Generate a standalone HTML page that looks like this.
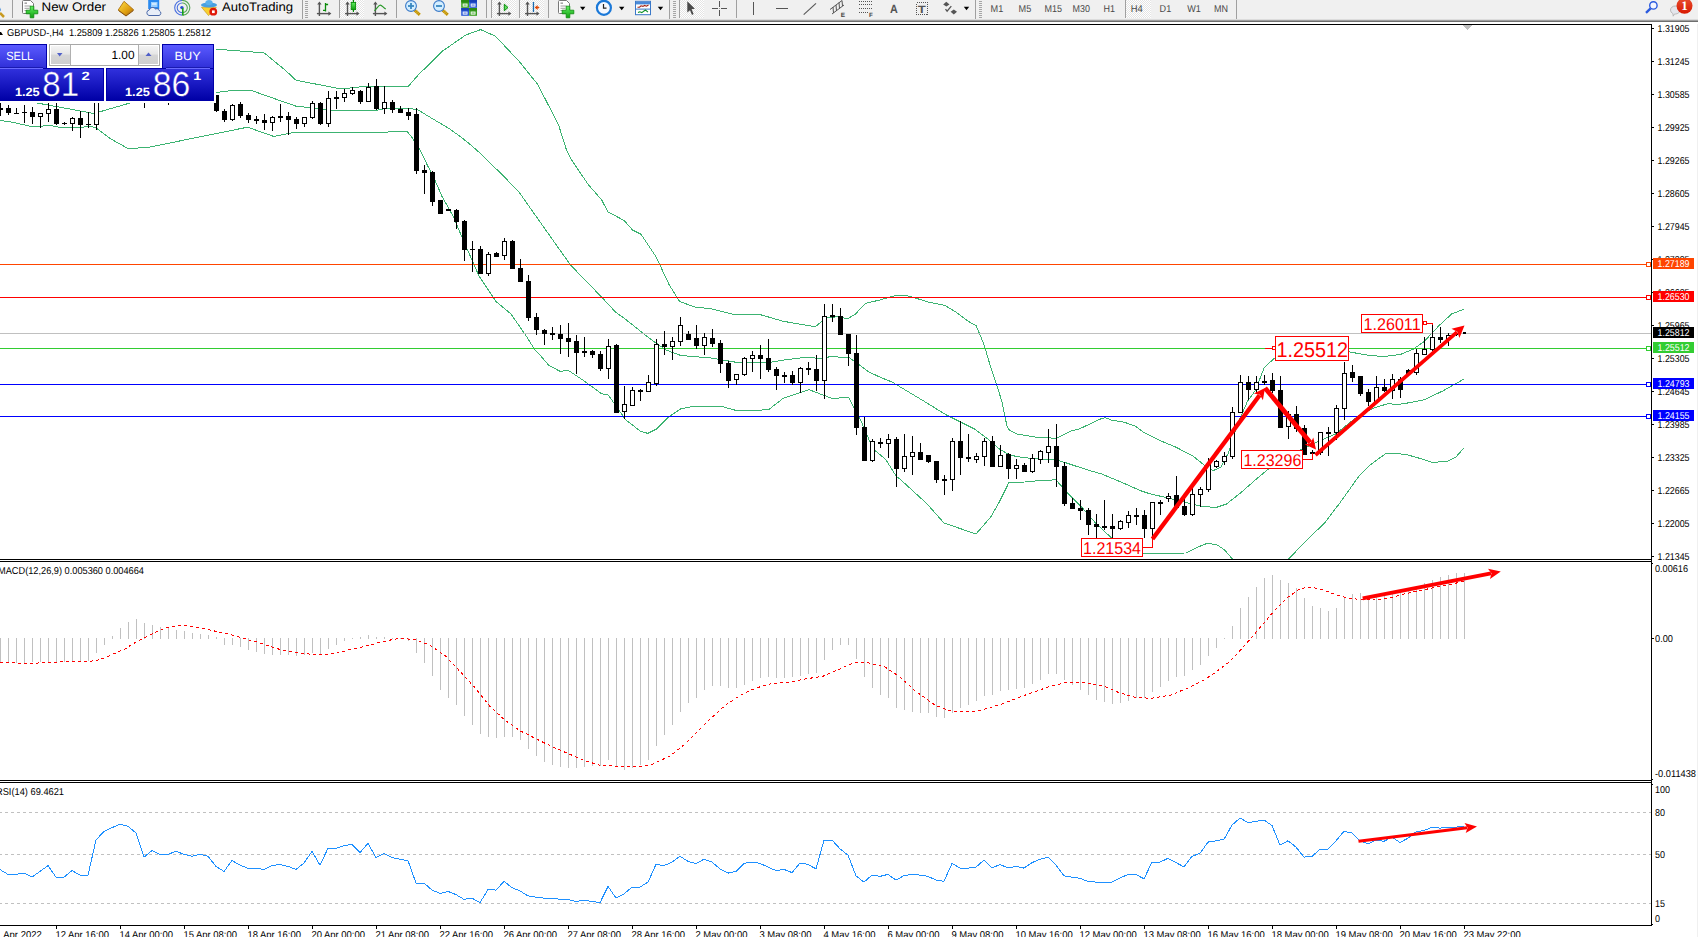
<!DOCTYPE html>
<html><head><meta charset="utf-8"><title>GBPUSD H4</title><style>
html,body{margin:0;padding:0;background:#fff;overflow:hidden}
body{width:1698px;height:937px;position:relative}
svg{position:absolute;left:0;top:0;display:block;font-family:"Liberation Sans",sans-serif;text-rendering:geometricPrecision}
.c{shape-rendering:crispEdges}
</style></head><body>
<svg width="1698" height="937" viewBox="0 0 1698 937">
<defs>
<linearGradient id="gSell" x1="0" y1="0" x2="0" y2="1"><stop offset="0" stop-color="#5a5aff"/><stop offset="1" stop-color="#2f2fd8"/></linearGradient>
<linearGradient id="gPrice" x1="0" y1="0" x2="0" y2="1"><stop offset="0" stop-color="#3030dc"/><stop offset="1" stop-color="#0000a6"/></linearGradient>
<linearGradient id="gPriceU" gradientUnits="userSpaceOnUse" x1="0" y1="69" x2="0" y2="100"><stop offset="0" stop-color="#3030dc"/><stop offset="1" stop-color="#0000a6"/></linearGradient>
<linearGradient id="gBtn" x1="0" y1="0" x2="0" y2="1"><stop offset="0" stop-color="#f4f4f4"/><stop offset="0.45" stop-color="#e6e6e6"/><stop offset="0.5" stop-color="#d6d6d6"/><stop offset="1" stop-color="#cfcfcf"/></linearGradient>
<clipPath id="clipMain"><rect x="0" y="25" width="1651" height="534"/></clipPath>
<clipPath id="clipMacd"><rect x="0" y="562" width="1651" height="217"/></clipPath>
<clipPath id="clipRsi"><rect x="0" y="783" width="1651" height="142"/></clipPath>
</defs>
<rect x="0" y="0" width="1698" height="937" fill="#fff"/>
<g class="c" clip-path="url(#clipMain)">
<polyline points="214.0,49.0 240.0,51.0 264.0,52.8 285.0,70.0 296.0,80.2 336.0,88.0 345.0,88.5 367.0,86.2 408.5,86.2 412.0,82.0 418.0,75.3 442.0,51.4 465.8,35.0 480.7,29.6 495.7,36.4 519.6,61.9 537.6,84.3 558.5,124.7 566.5,150.0 570.7,158.5 587.8,184.0 601.7,200.0 608.0,212.0 624.0,220.4 632.6,230.0 641.0,234.3 656.0,256.7 669.0,284.4 679.6,301.5 694.5,306.9 711.6,309.0 736.3,315.0 759.8,314.5 783.3,321.3 815.3,326.7 826.0,318.0 838.8,316.6 847.3,318.8 855.8,313.9 860.0,308.8 865.3,303.5 881.3,299.6 895.2,295.6 905.9,295.4 915.5,298.1 928.3,302.0 944.3,305.2 956.0,312.0 968.8,321.6 976.3,325.9 983.8,344.0 990.2,365.4 996.6,384.6 1001.9,401.6 1007.2,427.3 1009.4,430.0 1016.9,434.1 1037.1,437.3 1056.3,438.3 1071.3,430.9 1079.8,428.7 1101.1,418.7 1105.4,417.6 1111.8,420.2 1124.6,422.3 1135.3,426.2 1143.8,432.6 1158.8,440.0 1175.8,447.1 1192.9,456.0 1203.6,464.6 1213.0,470.7 1220.7,467.4 1228.4,453.0 1234.2,433.8 1240.0,418.4 1247.6,401.0 1255.3,390.6 1264.0,368.3 1273.6,358.7 1290.0,352.0 1320.0,349.5 1349.4,351.9 1366.5,355.0 1383.5,356.6 1400.6,354.4 1413.4,349.1 1424.0,341.6 1439.0,325.6 1451.8,313.9 1464.0,309.2" fill="none" stroke="#3cb371" stroke-width="1"/>
<polyline points="0.0,96.0 37.0,103.0 94.0,113.5 130.0,103.0 150.0,100.0 180.0,95.0 216.0,92.5 236.0,90.0 250.0,90.0 296.0,106.2 308.6,107.5 332.0,110.2 377.0,110.2 385.0,108.7 400.0,108.8 412.0,108.8 417.4,109.6 428.0,116.0 438.7,122.4 449.4,128.8 460.0,136.3 470.8,144.9 481.5,154.5 496.0,168.8 500.0,172.4 519.5,192.7 545.0,229.0 570.7,265.2 601.7,297.2 615.5,312.0 625.4,319.2 651.0,339.5 666.0,350.0 680.8,355.5 710.7,358.0 736.3,362.3 770.5,362.3 785.4,359.8 806.8,357.2 821.7,358.7 830.2,356.6 849.4,357.6 860.0,365.4 868.5,371.8 881.3,377.7 892.0,382.0 902.7,388.4 924.0,401.2 945.4,414.4 960.3,421.9 975.2,429.4 988.0,439.0 998.7,448.6 1009.4,455.0 1022.2,457.5 1037.1,458.8 1056.3,459.7 1064.9,462.5 1086.2,469.5 1101.1,473.8 1121.0,482.0 1140.0,490.5 1151.5,494.3 1165.0,497.2 1184.2,502.0 1203.4,506.8 1216.9,507.2 1226.5,504.0 1240.0,493.4 1255.3,480.0 1266.8,470.3 1285.0,459.0 1301.4,449.2 1322.5,439.6 1336.0,433.8 1351.4,421.3 1361.6,413.7 1375.0,407.5 1388.3,403.6 1396.8,404.6 1404.3,403.6 1416.0,401.4 1424.0,399.9 1443.3,390.7 1464.0,379.0" fill="none" stroke="#3cb371" stroke-width="1"/>
<polyline points="0.0,120.4 13.0,122.3 21.4,124.3 31.1,126.4 42.1,126.4 45.3,125.4 52.5,125.4 53.8,126.4 60.9,127.5 83.5,127.5 84.8,126.2 90.7,126.2 95.9,127.8 110.0,138.5 128.0,148.5 148.0,147.5 200.0,136.8 247.5,127.2 273.7,136.4 295.0,132.2 331.0,132.2 365.0,133.0 407.0,131.2 412.0,137.4 415.0,142.6 420.0,150.0 428.0,166.5 432.0,173.5 442.0,196.4 453.0,216.0 464.0,241.8 479.0,276.0 496.0,301.5 511.0,314.0 526.0,335.7 535.0,350.0 540.0,355.0 548.5,365.0 560.3,371.5 567.7,370.0 582.7,380.0 601.9,393.9 608.3,395.0 625.4,419.5 640.3,431.2 647.8,433.4 656.3,429.1 668.0,417.4 680.8,408.8 693.7,406.3 721.4,406.3 736.3,410.5 768.3,409.9 783.3,398.2 808.9,389.6 832.4,398.6 848.4,397.1 855.8,411.0 860.0,418.7 866.4,433.6 872.8,448.6 885.6,459.3 896.3,476.3 901.3,480.3 927.0,503.8 944.0,523.0 976.0,534.0 991.0,516.6 999.5,501.6 1009.0,482.4 1025.0,482.0 1042.0,480.3 1056.0,479.9 1065.7,491.0 1080.6,505.9 1095.5,523.0 1111.5,537.9 1125.0,548.0 1143.5,553.3 1186.0,553.0 1197.6,547.2 1207.3,543.3 1216.9,544.7 1224.6,550.0 1232.2,558.7 1240.0,570.0 1280.0,570.0 1289.0,558.7 1305.3,541.4 1324.5,523.2 1339.8,503.0 1349.5,489.5 1359.0,476.0 1370.6,464.6 1385.7,453.6 1404.9,454.1 1422.0,459.0 1432.6,462.6 1447.5,461.1 1456.0,456.9 1464.0,447.9" fill="none" stroke="#3cb371" stroke-width="1"/>
<rect x="0" y="333" width="1651" height="1" fill="#c0c0c0"/>
<rect x="0" y="264" width="1646" height="1" fill="#ff4500"/>
<rect x="0" y="297" width="1646" height="1" fill="#ff0000"/>
<rect x="0" y="348" width="1646" height="1" fill="#32cd32"/>
<rect x="0" y="384" width="1646" height="1" fill="#0000ff"/>
<rect x="0" y="416" width="1646" height="1" fill="#0000ff"/>
<rect x="0" y="103" width="1" height="13" fill="#000"/>
<rect x="-2" y="108" width="5" height="2" fill="#000"/>
<rect x="8" y="105" width="1" height="10" fill="#000"/>
<rect x="6" y="108" width="5" height="5" fill="#000"/>
<rect x="16" y="108" width="1" height="6" fill="#000"/>
<rect x="14" y="113" width="5" height="1" fill="#000"/>
<rect x="24" y="105" width="1" height="18" fill="#000"/>
<rect x="22" y="112" width="5" height="1" fill="#000"/>
<rect x="32" y="107" width="1" height="17" fill="#000"/>
<rect x="30" y="112" width="5" height="5" fill="#000"/>
<rect x="40" y="113" width="1" height="15" fill="#000"/>
<rect x="38" y="113" width="5" height="4" fill="#000"/>
<rect x="39" y="114" width="3" height="2" fill="#fff"/>
<rect x="48" y="103" width="1" height="19" fill="#000"/>
<rect x="46" y="109" width="5" height="5" fill="#000"/>
<rect x="47" y="110" width="3" height="3" fill="#fff"/>
<rect x="56" y="103" width="1" height="22" fill="#000"/>
<rect x="54" y="109" width="5" height="15" fill="#000"/>
<rect x="64" y="122" width="1" height="3" fill="#000"/>
<rect x="62" y="123" width="5" height="1" fill="#000"/>
<rect x="72" y="117" width="1" height="14" fill="#000"/>
<rect x="70" y="118" width="5" height="6" fill="#000"/>
<rect x="71" y="119" width="3" height="4" fill="#fff"/>
<rect x="80" y="111" width="1" height="27" fill="#000"/>
<rect x="78" y="118" width="5" height="7" fill="#000"/>
<rect x="88" y="112" width="1" height="16" fill="#000"/>
<rect x="86" y="124" width="5" height="1" fill="#000"/>
<rect x="96" y="90" width="1" height="40" fill="#000"/>
<rect x="94" y="92" width="5" height="33" fill="#000"/>
<rect x="95" y="93" width="3" height="31" fill="#fff"/>
<rect x="144" y="98" width="1" height="10" fill="#000"/>
<rect x="142" y="100" width="5" height="3" fill="#000"/>
<rect x="168" y="98" width="1" height="7" fill="#000"/>
<rect x="166" y="100" width="5" height="3" fill="#000"/>
<rect x="216" y="95" width="1" height="17" fill="#000"/>
<rect x="214" y="95" width="5" height="16" fill="#000"/>
<rect x="224" y="109" width="1" height="13" fill="#000"/>
<rect x="222" y="111" width="5" height="9" fill="#000"/>
<rect x="232" y="104" width="1" height="17" fill="#000"/>
<rect x="230" y="105" width="5" height="15" fill="#000"/>
<rect x="231" y="106" width="3" height="13" fill="#fff"/>
<rect x="240" y="102" width="1" height="16" fill="#000"/>
<rect x="238" y="104" width="5" height="12" fill="#000"/>
<rect x="248" y="113" width="1" height="10" fill="#000"/>
<rect x="246" y="115" width="5" height="5" fill="#000"/>
<rect x="256" y="116" width="1" height="8" fill="#000"/>
<rect x="254" y="119" width="5" height="2" fill="#000"/>
<rect x="264" y="114" width="1" height="16" fill="#000"/>
<rect x="262" y="120" width="5" height="3" fill="#000"/>
<rect x="272" y="116" width="1" height="15" fill="#000"/>
<rect x="270" y="117" width="5" height="6" fill="#000"/>
<rect x="271" y="118" width="3" height="4" fill="#fff"/>
<rect x="280" y="104" width="1" height="18" fill="#000"/>
<rect x="278" y="116" width="5" height="2" fill="#000"/>
<rect x="288" y="112" width="1" height="23" fill="#000"/>
<rect x="286" y="116" width="5" height="4" fill="#000"/>
<rect x="296" y="117" width="1" height="12" fill="#000"/>
<rect x="294" y="119" width="5" height="5" fill="#000"/>
<rect x="304" y="117" width="1" height="10" fill="#000"/>
<rect x="302" y="117" width="5" height="7" fill="#000"/>
<rect x="303" y="118" width="3" height="5" fill="#fff"/>
<rect x="312" y="101" width="1" height="18" fill="#000"/>
<rect x="310" y="103" width="5" height="15" fill="#000"/>
<rect x="311" y="104" width="3" height="13" fill="#fff"/>
<rect x="320" y="102" width="1" height="23" fill="#000"/>
<rect x="318" y="103" width="5" height="21" fill="#000"/>
<rect x="328" y="91" width="1" height="36" fill="#000"/>
<rect x="326" y="98" width="5" height="26" fill="#000"/>
<rect x="327" y="99" width="3" height="24" fill="#fff"/>
<rect x="336" y="91" width="1" height="18" fill="#000"/>
<rect x="334" y="97" width="5" height="2" fill="#000"/>
<rect x="344" y="89" width="1" height="13" fill="#000"/>
<rect x="342" y="93" width="5" height="5" fill="#000"/>
<rect x="343" y="94" width="3" height="3" fill="#fff"/>
<rect x="352" y="87" width="1" height="8" fill="#000"/>
<rect x="350" y="90" width="5" height="4" fill="#000"/>
<rect x="351" y="91" width="3" height="2" fill="#fff"/>
<rect x="360" y="90" width="1" height="14" fill="#000"/>
<rect x="358" y="91" width="5" height="11" fill="#000"/>
<rect x="368" y="83" width="1" height="19" fill="#000"/>
<rect x="366" y="87" width="5" height="15" fill="#000"/>
<rect x="367" y="88" width="3" height="13" fill="#fff"/>
<rect x="376" y="79" width="1" height="31" fill="#000"/>
<rect x="374" y="86" width="5" height="23" fill="#000"/>
<rect x="384" y="86" width="1" height="28" fill="#000"/>
<rect x="382" y="102" width="5" height="7" fill="#000"/>
<rect x="383" y="103" width="3" height="5" fill="#fff"/>
<rect x="392" y="100" width="1" height="13" fill="#000"/>
<rect x="390" y="102" width="5" height="8" fill="#000"/>
<rect x="400" y="106" width="1" height="7" fill="#000"/>
<rect x="398" y="109" width="5" height="4" fill="#000"/>
<rect x="408" y="108" width="1" height="12" fill="#000"/>
<rect x="406" y="112" width="5" height="4" fill="#000"/>
<rect x="416" y="108" width="1" height="66" fill="#000"/>
<rect x="414" y="114" width="5" height="57" fill="#000"/>
<rect x="424" y="165" width="1" height="29" fill="#000"/>
<rect x="422" y="170" width="5" height="3" fill="#000"/>
<rect x="432" y="171" width="1" height="35" fill="#000"/>
<rect x="430" y="172" width="5" height="30" fill="#000"/>
<rect x="440" y="200" width="1" height="14" fill="#000"/>
<rect x="438" y="200" width="5" height="14" fill="#000"/>
<rect x="448" y="209" width="1" height="2" fill="#000"/>
<rect x="446" y="209" width="5" height="2" fill="#000"/>
<rect x="456" y="209" width="1" height="20" fill="#000"/>
<rect x="454" y="210" width="5" height="12" fill="#000"/>
<rect x="464" y="220" width="1" height="41" fill="#000"/>
<rect x="462" y="221" width="5" height="29" fill="#000"/>
<rect x="472" y="241" width="1" height="31" fill="#000"/>
<rect x="470" y="249" width="5" height="1" fill="#000"/>
<rect x="480" y="246" width="1" height="28" fill="#000"/>
<rect x="478" y="249" width="5" height="25" fill="#000"/>
<rect x="488" y="252" width="1" height="24" fill="#000"/>
<rect x="486" y="254" width="5" height="20" fill="#000"/>
<rect x="487" y="255" width="3" height="18" fill="#fff"/>
<rect x="496" y="252" width="1" height="5" fill="#000"/>
<rect x="494" y="253" width="5" height="4" fill="#000"/>
<rect x="504" y="238" width="1" height="22" fill="#000"/>
<rect x="502" y="241" width="5" height="15" fill="#000"/>
<rect x="503" y="242" width="3" height="13" fill="#fff"/>
<rect x="512" y="240" width="1" height="29" fill="#000"/>
<rect x="510" y="241" width="5" height="28" fill="#000"/>
<rect x="520" y="259" width="1" height="23" fill="#000"/>
<rect x="518" y="268" width="5" height="14" fill="#000"/>
<rect x="528" y="275" width="1" height="46" fill="#000"/>
<rect x="526" y="281" width="5" height="37" fill="#000"/>
<rect x="536" y="313" width="1" height="22" fill="#000"/>
<rect x="534" y="317" width="5" height="13" fill="#000"/>
<rect x="544" y="329" width="1" height="16" fill="#000"/>
<rect x="542" y="330" width="5" height="4" fill="#000"/>
<rect x="552" y="327" width="1" height="13" fill="#000"/>
<rect x="550" y="333" width="5" height="2" fill="#000"/>
<rect x="560" y="325" width="1" height="29" fill="#000"/>
<rect x="558" y="334" width="5" height="5" fill="#000"/>
<rect x="568" y="323" width="1" height="34" fill="#000"/>
<rect x="566" y="338" width="5" height="4" fill="#000"/>
<rect x="576" y="335" width="1" height="39" fill="#000"/>
<rect x="574" y="341" width="5" height="12" fill="#000"/>
<rect x="584" y="337" width="1" height="20" fill="#000"/>
<rect x="582" y="351" width="5" height="2" fill="#000"/>
<rect x="592" y="350" width="1" height="8" fill="#000"/>
<rect x="590" y="351" width="5" height="4" fill="#000"/>
<rect x="600" y="351" width="1" height="20" fill="#000"/>
<rect x="598" y="354" width="5" height="15" fill="#000"/>
<rect x="608" y="339" width="1" height="40" fill="#000"/>
<rect x="606" y="346" width="5" height="23" fill="#000"/>
<rect x="607" y="347" width="3" height="21" fill="#fff"/>
<rect x="616" y="344" width="1" height="68" fill="#000"/>
<rect x="614" y="345" width="5" height="68" fill="#000"/>
<rect x="624" y="386" width="1" height="33" fill="#000"/>
<rect x="622" y="404" width="5" height="8" fill="#000"/>
<rect x="623" y="405" width="3" height="6" fill="#fff"/>
<rect x="632" y="387" width="1" height="19" fill="#000"/>
<rect x="630" y="390" width="5" height="16" fill="#000"/>
<rect x="631" y="391" width="3" height="14" fill="#fff"/>
<rect x="640" y="389" width="1" height="12" fill="#000"/>
<rect x="638" y="390" width="5" height="2" fill="#000"/>
<rect x="648" y="375" width="1" height="17" fill="#000"/>
<rect x="646" y="382" width="5" height="10" fill="#000"/>
<rect x="647" y="383" width="3" height="8" fill="#fff"/>
<rect x="656" y="339" width="1" height="47" fill="#000"/>
<rect x="654" y="344" width="5" height="40" fill="#000"/>
<rect x="655" y="345" width="3" height="38" fill="#fff"/>
<rect x="664" y="331" width="1" height="24" fill="#000"/>
<rect x="662" y="344" width="5" height="3" fill="#000"/>
<rect x="672" y="337" width="1" height="23" fill="#000"/>
<rect x="670" y="341" width="5" height="6" fill="#000"/>
<rect x="671" y="342" width="3" height="4" fill="#fff"/>
<rect x="680" y="317" width="1" height="29" fill="#000"/>
<rect x="678" y="325" width="5" height="17" fill="#000"/>
<rect x="679" y="326" width="3" height="15" fill="#fff"/>
<rect x="688" y="331" width="1" height="9" fill="#000"/>
<rect x="686" y="334" width="5" height="6" fill="#000"/>
<rect x="696" y="325" width="1" height="24" fill="#000"/>
<rect x="694" y="338" width="5" height="8" fill="#000"/>
<rect x="704" y="333" width="1" height="22" fill="#000"/>
<rect x="702" y="337" width="5" height="9" fill="#000"/>
<rect x="703" y="338" width="3" height="7" fill="#fff"/>
<rect x="712" y="329" width="1" height="18" fill="#000"/>
<rect x="710" y="338" width="5" height="6" fill="#000"/>
<rect x="720" y="340" width="1" height="33" fill="#000"/>
<rect x="718" y="343" width="5" height="21" fill="#000"/>
<rect x="728" y="361" width="1" height="27" fill="#000"/>
<rect x="726" y="363" width="5" height="18" fill="#000"/>
<rect x="736" y="374" width="1" height="11" fill="#000"/>
<rect x="734" y="374" width="5" height="6" fill="#000"/>
<rect x="735" y="375" width="3" height="4" fill="#fff"/>
<rect x="744" y="357" width="1" height="19" fill="#000"/>
<rect x="742" y="358" width="5" height="17" fill="#000"/>
<rect x="743" y="359" width="3" height="15" fill="#fff"/>
<rect x="752" y="351" width="1" height="21" fill="#000"/>
<rect x="750" y="355" width="5" height="4" fill="#000"/>
<rect x="751" y="356" width="3" height="2" fill="#fff"/>
<rect x="760" y="345" width="1" height="34" fill="#000"/>
<rect x="758" y="355" width="5" height="4" fill="#000"/>
<rect x="768" y="339" width="1" height="33" fill="#000"/>
<rect x="766" y="358" width="5" height="12" fill="#000"/>
<rect x="776" y="367" width="1" height="23" fill="#000"/>
<rect x="774" y="369" width="5" height="7" fill="#000"/>
<rect x="784" y="372" width="1" height="11" fill="#000"/>
<rect x="782" y="375" width="5" height="2" fill="#000"/>
<rect x="792" y="371" width="1" height="14" fill="#000"/>
<rect x="790" y="375" width="5" height="8" fill="#000"/>
<rect x="800" y="367" width="1" height="26" fill="#000"/>
<rect x="798" y="368" width="5" height="15" fill="#000"/>
<rect x="799" y="369" width="3" height="13" fill="#fff"/>
<rect x="808" y="362" width="1" height="13" fill="#000"/>
<rect x="806" y="368" width="5" height="2" fill="#000"/>
<rect x="816" y="355" width="1" height="36" fill="#000"/>
<rect x="814" y="369" width="5" height="12" fill="#000"/>
<rect x="824" y="304" width="1" height="95" fill="#000"/>
<rect x="822" y="316" width="5" height="65" fill="#000"/>
<rect x="823" y="317" width="3" height="63" fill="#fff"/>
<rect x="832" y="304" width="1" height="18" fill="#000"/>
<rect x="830" y="315" width="5" height="2" fill="#000"/>
<rect x="840" y="308" width="1" height="27" fill="#000"/>
<rect x="838" y="316" width="5" height="19" fill="#000"/>
<rect x="848" y="334" width="1" height="32" fill="#000"/>
<rect x="846" y="334" width="5" height="20" fill="#000"/>
<rect x="856" y="335" width="1" height="100" fill="#000"/>
<rect x="854" y="353" width="5" height="75" fill="#000"/>
<rect x="864" y="417" width="1" height="44" fill="#000"/>
<rect x="862" y="427" width="5" height="34" fill="#000"/>
<rect x="872" y="439" width="1" height="23" fill="#000"/>
<rect x="870" y="441" width="5" height="20" fill="#000"/>
<rect x="871" y="442" width="3" height="18" fill="#fff"/>
<rect x="880" y="438" width="1" height="10" fill="#000"/>
<rect x="878" y="442" width="5" height="2" fill="#000"/>
<rect x="888" y="434" width="1" height="24" fill="#000"/>
<rect x="886" y="439" width="5" height="5" fill="#000"/>
<rect x="887" y="440" width="3" height="3" fill="#fff"/>
<rect x="896" y="437" width="1" height="50" fill="#000"/>
<rect x="894" y="439" width="5" height="30" fill="#000"/>
<rect x="904" y="434" width="1" height="38" fill="#000"/>
<rect x="902" y="456" width="5" height="13" fill="#000"/>
<rect x="903" y="457" width="3" height="11" fill="#fff"/>
<rect x="912" y="436" width="1" height="39" fill="#000"/>
<rect x="910" y="452" width="5" height="5" fill="#000"/>
<rect x="911" y="453" width="3" height="3" fill="#fff"/>
<rect x="920" y="443" width="1" height="17" fill="#000"/>
<rect x="918" y="452" width="5" height="8" fill="#000"/>
<rect x="928" y="455" width="1" height="8" fill="#000"/>
<rect x="926" y="455" width="5" height="7" fill="#000"/>
<rect x="936" y="461" width="1" height="22" fill="#000"/>
<rect x="934" y="461" width="5" height="19" fill="#000"/>
<rect x="944" y="475" width="1" height="20" fill="#000"/>
<rect x="942" y="479" width="5" height="2" fill="#000"/>
<rect x="952" y="438" width="1" height="53" fill="#000"/>
<rect x="950" y="441" width="5" height="39" fill="#000"/>
<rect x="951" y="442" width="3" height="37" fill="#fff"/>
<rect x="960" y="421" width="1" height="54" fill="#000"/>
<rect x="958" y="441" width="5" height="17" fill="#000"/>
<rect x="968" y="434" width="1" height="28" fill="#000"/>
<rect x="966" y="457" width="5" height="2" fill="#000"/>
<rect x="976" y="453" width="1" height="10" fill="#000"/>
<rect x="974" y="456" width="5" height="4" fill="#000"/>
<rect x="975" y="457" width="3" height="2" fill="#fff"/>
<rect x="984" y="438" width="1" height="28" fill="#000"/>
<rect x="982" y="441" width="5" height="16" fill="#000"/>
<rect x="983" y="442" width="3" height="14" fill="#fff"/>
<rect x="992" y="436" width="1" height="31" fill="#000"/>
<rect x="990" y="441" width="5" height="26" fill="#000"/>
<rect x="1000" y="445" width="1" height="22" fill="#000"/>
<rect x="998" y="455" width="5" height="12" fill="#000"/>
<rect x="999" y="456" width="3" height="10" fill="#fff"/>
<rect x="1008" y="453" width="1" height="26" fill="#000"/>
<rect x="1006" y="454" width="5" height="15" fill="#000"/>
<rect x="1016" y="459" width="1" height="20" fill="#000"/>
<rect x="1014" y="465" width="5" height="4" fill="#000"/>
<rect x="1015" y="466" width="3" height="2" fill="#fff"/>
<rect x="1024" y="463" width="1" height="9" fill="#000"/>
<rect x="1022" y="465" width="5" height="7" fill="#000"/>
<rect x="1032" y="454" width="1" height="19" fill="#000"/>
<rect x="1030" y="458" width="5" height="14" fill="#000"/>
<rect x="1031" y="459" width="3" height="12" fill="#fff"/>
<rect x="1040" y="450" width="1" height="14" fill="#000"/>
<rect x="1038" y="451" width="5" height="9" fill="#000"/>
<rect x="1039" y="452" width="3" height="7" fill="#fff"/>
<rect x="1048" y="429" width="1" height="34" fill="#000"/>
<rect x="1046" y="446" width="5" height="7" fill="#000"/>
<rect x="1047" y="447" width="3" height="5" fill="#fff"/>
<rect x="1056" y="424" width="1" height="63" fill="#000"/>
<rect x="1054" y="446" width="5" height="21" fill="#000"/>
<rect x="1064" y="462" width="1" height="44" fill="#000"/>
<rect x="1062" y="466" width="5" height="38" fill="#000"/>
<rect x="1072" y="498" width="1" height="11" fill="#000"/>
<rect x="1070" y="503" width="5" height="6" fill="#000"/>
<rect x="1080" y="500" width="1" height="20" fill="#000"/>
<rect x="1078" y="508" width="5" height="3" fill="#000"/>
<rect x="1088" y="508" width="1" height="27" fill="#000"/>
<rect x="1086" y="510" width="5" height="15" fill="#000"/>
<rect x="1096" y="514" width="1" height="28" fill="#000"/>
<rect x="1094" y="524" width="5" height="3" fill="#000"/>
<rect x="1104" y="500" width="1" height="30" fill="#000"/>
<rect x="1102" y="526" width="5" height="2" fill="#000"/>
<rect x="1112" y="514" width="1" height="24" fill="#000"/>
<rect x="1110" y="526" width="5" height="3" fill="#000"/>
<rect x="1120" y="520" width="1" height="10" fill="#000"/>
<rect x="1118" y="521" width="5" height="8" fill="#000"/>
<rect x="1119" y="522" width="3" height="6" fill="#fff"/>
<rect x="1128" y="511" width="1" height="17" fill="#000"/>
<rect x="1126" y="515" width="5" height="8" fill="#000"/>
<rect x="1127" y="516" width="3" height="6" fill="#fff"/>
<rect x="1136" y="508" width="1" height="17" fill="#000"/>
<rect x="1134" y="515" width="5" height="2" fill="#000"/>
<rect x="1144" y="510" width="1" height="28" fill="#000"/>
<rect x="1142" y="515" width="5" height="14" fill="#000"/>
<rect x="1152" y="502" width="1" height="37" fill="#000"/>
<rect x="1150" y="502" width="5" height="27" fill="#000"/>
<rect x="1151" y="503" width="3" height="25" fill="#fff"/>
<rect x="1160" y="500" width="1" height="15" fill="#000"/>
<rect x="1158" y="502" width="5" height="2" fill="#000"/>
<rect x="1168" y="493" width="1" height="9" fill="#000"/>
<rect x="1166" y="496" width="5" height="3" fill="#000"/>
<rect x="1167" y="497" width="3" height="1" fill="#fff"/>
<rect x="1176" y="476" width="1" height="31" fill="#000"/>
<rect x="1174" y="495" width="5" height="13" fill="#000"/>
<rect x="1184" y="499" width="1" height="17" fill="#000"/>
<rect x="1182" y="506" width="5" height="9" fill="#000"/>
<rect x="1192" y="487" width="1" height="29" fill="#000"/>
<rect x="1190" y="494" width="5" height="21" fill="#000"/>
<rect x="1191" y="495" width="3" height="19" fill="#fff"/>
<rect x="1200" y="487" width="1" height="20" fill="#000"/>
<rect x="1198" y="489" width="5" height="6" fill="#000"/>
<rect x="1199" y="490" width="3" height="4" fill="#fff"/>
<rect x="1208" y="458" width="1" height="34" fill="#000"/>
<rect x="1206" y="464" width="5" height="26" fill="#000"/>
<rect x="1207" y="465" width="3" height="24" fill="#fff"/>
<rect x="1216" y="460" width="1" height="8" fill="#000"/>
<rect x="1214" y="461" width="5" height="6" fill="#000"/>
<rect x="1215" y="462" width="3" height="4" fill="#fff"/>
<rect x="1224" y="452" width="1" height="13" fill="#000"/>
<rect x="1222" y="456" width="5" height="6" fill="#000"/>
<rect x="1223" y="457" width="3" height="4" fill="#fff"/>
<rect x="1232" y="407" width="1" height="52" fill="#000"/>
<rect x="1230" y="412" width="5" height="45" fill="#000"/>
<rect x="1231" y="413" width="3" height="43" fill="#fff"/>
<rect x="1240" y="375" width="1" height="38" fill="#000"/>
<rect x="1238" y="382" width="5" height="31" fill="#000"/>
<rect x="1239" y="383" width="3" height="29" fill="#fff"/>
<rect x="1248" y="376" width="1" height="24" fill="#000"/>
<rect x="1246" y="382" width="5" height="8" fill="#000"/>
<rect x="1256" y="376" width="1" height="18" fill="#000"/>
<rect x="1254" y="382" width="5" height="8" fill="#000"/>
<rect x="1255" y="383" width="3" height="6" fill="#fff"/>
<rect x="1264" y="375" width="1" height="10" fill="#000"/>
<rect x="1262" y="381" width="5" height="2" fill="#000"/>
<rect x="1272" y="373" width="1" height="20" fill="#000"/>
<rect x="1270" y="380" width="5" height="11" fill="#000"/>
<rect x="1280" y="376" width="1" height="52" fill="#000"/>
<rect x="1278" y="390" width="5" height="38" fill="#000"/>
<rect x="1288" y="411" width="1" height="28" fill="#000"/>
<rect x="1286" y="414" width="5" height="13" fill="#000"/>
<rect x="1287" y="415" width="3" height="11" fill="#fff"/>
<rect x="1296" y="406" width="1" height="26" fill="#000"/>
<rect x="1294" y="414" width="5" height="15" fill="#000"/>
<rect x="1304" y="425" width="1" height="30" fill="#000"/>
<rect x="1302" y="428" width="5" height="27" fill="#000"/>
<rect x="1312" y="450" width="1" height="10" fill="#000"/>
<rect x="1310" y="452" width="5" height="2" fill="#000"/>
<rect x="1320" y="432" width="1" height="23" fill="#000"/>
<rect x="1318" y="432" width="5" height="21" fill="#000"/>
<rect x="1319" y="433" width="3" height="19" fill="#fff"/>
<rect x="1328" y="427" width="1" height="29" fill="#000"/>
<rect x="1326" y="432" width="5" height="2" fill="#000"/>
<rect x="1336" y="405" width="1" height="35" fill="#000"/>
<rect x="1334" y="408" width="5" height="25" fill="#000"/>
<rect x="1335" y="409" width="3" height="23" fill="#fff"/>
<rect x="1344" y="362" width="1" height="58" fill="#000"/>
<rect x="1342" y="373" width="5" height="36" fill="#000"/>
<rect x="1343" y="374" width="3" height="34" fill="#fff"/>
<rect x="1352" y="365" width="1" height="17" fill="#000"/>
<rect x="1350" y="372" width="5" height="6" fill="#000"/>
<rect x="1360" y="376" width="1" height="20" fill="#000"/>
<rect x="1358" y="376" width="5" height="18" fill="#000"/>
<rect x="1368" y="389" width="1" height="17" fill="#000"/>
<rect x="1366" y="392" width="5" height="10" fill="#000"/>
<rect x="1376" y="376" width="1" height="26" fill="#000"/>
<rect x="1374" y="387" width="5" height="15" fill="#000"/>
<rect x="1375" y="388" width="3" height="13" fill="#fff"/>
<rect x="1384" y="379" width="1" height="13" fill="#000"/>
<rect x="1382" y="387" width="5" height="4" fill="#000"/>
<rect x="1392" y="374" width="1" height="25" fill="#000"/>
<rect x="1390" y="379" width="5" height="12" fill="#000"/>
<rect x="1391" y="380" width="3" height="10" fill="#fff"/>
<rect x="1400" y="377" width="1" height="21" fill="#000"/>
<rect x="1398" y="379" width="5" height="11" fill="#000"/>
<rect x="1408" y="369" width="1" height="6" fill="#000"/>
<rect x="1406" y="370" width="5" height="4" fill="#000"/>
<rect x="1416" y="349" width="1" height="26" fill="#000"/>
<rect x="1414" y="353" width="5" height="20" fill="#000"/>
<rect x="1415" y="354" width="3" height="18" fill="#fff"/>
<rect x="1424" y="337" width="1" height="18" fill="#000"/>
<rect x="1422" y="349" width="5" height="6" fill="#000"/>
<rect x="1423" y="350" width="3" height="4" fill="#fff"/>
<rect x="1432" y="323" width="1" height="28" fill="#000"/>
<rect x="1430" y="337" width="5" height="13" fill="#000"/>
<rect x="1431" y="338" width="3" height="11" fill="#fff"/>
<rect x="1440" y="327" width="1" height="16" fill="#000"/>
<rect x="1438" y="337" width="5" height="3" fill="#000"/>
<rect x="1448" y="333" width="1" height="13" fill="#000"/>
<rect x="1446" y="335" width="5" height="5" fill="#000"/>
<rect x="1447" y="336" width="3" height="3" fill="#fff"/>
<rect x="1456" y="333" width="1" height="3" fill="#000"/>
<rect x="1455" y="333" width="3" height="2" fill="#000"/>
<rect x="1464" y="332" width="1" height="1" fill="#000"/>
<rect x="1463" y="332" width="3" height="2" fill="#000"/>
</g>
<g>
<line x1="1152.5" y1="539.0" x2="1259.6" y2="395.2" stroke="#ff0000" stroke-width="4.4"/><polygon points="1265.0,388.0 1262.9,400.2 1259.9,394.8 1253.9,393.5" fill="#ff0000"/>
<line x1="1265.0" y1="388.0" x2="1310.3" y2="442.6" stroke="#ff0000" stroke-width="4.7"/><polygon points="1316.0,449.5 1304.7,444.6 1310.6,443.0 1313.3,437.5" fill="#ff0000"/>
<line x1="1315.5" y1="455.0" x2="1457.0" y2="332.1" stroke="#ff0000" stroke-width="3.7"/><polygon points="1464.5,325.5 1459.4,337.9 1457.3,331.7 1451.5,328.8" fill="#ff0000"/>
</g>
<g class="c" fill="none" stroke="#ff0000" stroke-width="1">
<path d="M1143 547.5H1152.5V539"/>
<path d="M1303 459.5H1312.5V453"/>
<path d="M1265 348.5H1272"/><rect x="1272.5" y="346.5" width="3" height="3" fill="#fff"/>
<path d="M1426 323.5H1432.5V325"/><rect x="1423.5" y="321.5" width="3" height="3" fill="#fff"/>
</g>
<rect class="c" x="1081.5" y="538.5" width="61" height="18" fill="#fff" stroke="#ff0000" stroke-width="1"/><text x="1083" y="553.6" font-size="17" fill="#ff0000" textLength="58" lengthAdjust="spacingAndGlyphs">1.21534</text>
<rect class="c" x="1241.5" y="450.5" width="61" height="18" fill="#fff" stroke="#ff0000" stroke-width="1"/><text x="1243.4" y="465.6" font-size="17" fill="#ff0000" textLength="58" lengthAdjust="spacingAndGlyphs">1.23296</text>
<rect class="c" x="1361.5" y="314.5" width="61" height="18" fill="#fff" stroke="#ff0000" stroke-width="1"/><text x="1363.6" y="329.7" font-size="17" fill="#ff0000" textLength="57" lengthAdjust="spacingAndGlyphs">1.26011</text>
<rect class="c" x="1275.5" y="336.5" width="73" height="24" fill="#fff" stroke="#ff0000" stroke-width="1"/><text x="1276.4" y="356.7" font-size="21.3" fill="#ff0000" textLength="71.6" lengthAdjust="spacingAndGlyphs">1.25512</text>
<g class="c" clip-path="url(#clipMacd)">
<rect x="0" y="638" width="1" height="25" fill="#c0c0c0"/>
<rect x="8" y="638" width="1" height="25" fill="#c0c0c0"/>
<rect x="16" y="638" width="1" height="25" fill="#c0c0c0"/>
<rect x="24" y="638" width="1" height="25" fill="#c0c0c0"/>
<rect x="32" y="638" width="1" height="24" fill="#c0c0c0"/>
<rect x="40" y="638" width="1" height="24" fill="#c0c0c0"/>
<rect x="48" y="638" width="1" height="24" fill="#c0c0c0"/>
<rect x="56" y="638" width="1" height="24" fill="#c0c0c0"/>
<rect x="64" y="638" width="1" height="24" fill="#c0c0c0"/>
<rect x="72" y="638" width="1" height="23" fill="#c0c0c0"/>
<rect x="80" y="638" width="1" height="23" fill="#c0c0c0"/>
<rect x="88" y="638" width="1" height="23" fill="#c0c0c0"/>
<rect x="96" y="638" width="1" height="15" fill="#c0c0c0"/>
<rect x="104" y="638" width="1" height="7" fill="#c0c0c0"/>
<rect x="112" y="636" width="1" height="3" fill="#c0c0c0"/>
<rect x="120" y="628" width="1" height="11" fill="#c0c0c0"/>
<rect x="128" y="622" width="1" height="17" fill="#c0c0c0"/>
<rect x="136" y="619" width="1" height="20" fill="#c0c0c0"/>
<rect x="144" y="623" width="1" height="16" fill="#c0c0c0"/>
<rect x="152" y="625" width="1" height="14" fill="#c0c0c0"/>
<rect x="160" y="627" width="1" height="12" fill="#c0c0c0"/>
<rect x="168" y="628" width="1" height="11" fill="#c0c0c0"/>
<rect x="176" y="630" width="1" height="9" fill="#c0c0c0"/>
<rect x="184" y="631" width="1" height="8" fill="#c0c0c0"/>
<rect x="192" y="633" width="1" height="6" fill="#c0c0c0"/>
<rect x="200" y="634" width="1" height="5" fill="#c0c0c0"/>
<rect x="208" y="635" width="1" height="4" fill="#c0c0c0"/>
<rect x="216" y="637" width="1" height="2" fill="#c0c0c0"/>
<rect x="224" y="638" width="1" height="7" fill="#c0c0c0"/>
<rect x="232" y="638" width="1" height="7" fill="#c0c0c0"/>
<rect x="240" y="638" width="1" height="9" fill="#c0c0c0"/>
<rect x="248" y="638" width="1" height="12" fill="#c0c0c0"/>
<rect x="256" y="638" width="1" height="14" fill="#c0c0c0"/>
<rect x="264" y="638" width="1" height="16" fill="#c0c0c0"/>
<rect x="272" y="638" width="1" height="17" fill="#c0c0c0"/>
<rect x="280" y="638" width="1" height="17" fill="#c0c0c0"/>
<rect x="288" y="638" width="1" height="17" fill="#c0c0c0"/>
<rect x="296" y="638" width="1" height="18" fill="#c0c0c0"/>
<rect x="304" y="638" width="1" height="17" fill="#c0c0c0"/>
<rect x="312" y="638" width="1" height="15" fill="#c0c0c0"/>
<rect x="320" y="638" width="1" height="16" fill="#c0c0c0"/>
<rect x="328" y="638" width="1" height="11" fill="#c0c0c0"/>
<rect x="336" y="638" width="1" height="7" fill="#c0c0c0"/>
<rect x="344" y="638" width="1" height="3" fill="#c0c0c0"/>
<rect x="352" y="638" width="1" height="1" fill="#c0c0c0"/>
<rect x="360" y="637" width="1" height="2" fill="#c0c0c0"/>
<rect x="368" y="635" width="1" height="4" fill="#c0c0c0"/>
<rect x="376" y="637" width="1" height="2" fill="#c0c0c0"/>
<rect x="384" y="637" width="1" height="2" fill="#c0c0c0"/>
<rect x="392" y="638" width="1" height="1" fill="#c0c0c0"/>
<rect x="400" y="638" width="1" height="1" fill="#c0c0c0"/>
<rect x="408" y="638" width="1" height="3" fill="#c0c0c0"/>
<rect x="416" y="638" width="1" height="15" fill="#c0c0c0"/>
<rect x="424" y="638" width="1" height="25" fill="#c0c0c0"/>
<rect x="432" y="638" width="1" height="38" fill="#c0c0c0"/>
<rect x="440" y="638" width="1" height="52" fill="#c0c0c0"/>
<rect x="448" y="638" width="1" height="60" fill="#c0c0c0"/>
<rect x="456" y="638" width="1" height="67" fill="#c0c0c0"/>
<rect x="464" y="638" width="1" height="78" fill="#c0c0c0"/>
<rect x="472" y="638" width="1" height="87" fill="#c0c0c0"/>
<rect x="480" y="638" width="1" height="96" fill="#c0c0c0"/>
<rect x="488" y="638" width="1" height="99" fill="#c0c0c0"/>
<rect x="496" y="638" width="1" height="100" fill="#c0c0c0"/>
<rect x="504" y="638" width="1" height="99" fill="#c0c0c0"/>
<rect x="512" y="638" width="1" height="99" fill="#c0c0c0"/>
<rect x="520" y="638" width="1" height="102" fill="#c0c0c0"/>
<rect x="528" y="638" width="1" height="111" fill="#c0c0c0"/>
<rect x="536" y="638" width="1" height="118" fill="#c0c0c0"/>
<rect x="544" y="638" width="1" height="124" fill="#c0c0c0"/>
<rect x="552" y="638" width="1" height="127" fill="#c0c0c0"/>
<rect x="560" y="638" width="1" height="129" fill="#c0c0c0"/>
<rect x="568" y="638" width="1" height="130" fill="#c0c0c0"/>
<rect x="576" y="638" width="1" height="130" fill="#c0c0c0"/>
<rect x="584" y="638" width="1" height="129" fill="#c0c0c0"/>
<rect x="592" y="638" width="1" height="128" fill="#c0c0c0"/>
<rect x="600" y="638" width="1" height="128" fill="#c0c0c0"/>
<rect x="608" y="638" width="1" height="122" fill="#c0c0c0"/>
<rect x="616" y="638" width="1" height="129" fill="#c0c0c0"/>
<rect x="624" y="638" width="1" height="132" fill="#c0c0c0"/>
<rect x="632" y="638" width="1" height="130" fill="#c0c0c0"/>
<rect x="640" y="638" width="1" height="127" fill="#c0c0c0"/>
<rect x="648" y="638" width="1" height="122" fill="#c0c0c0"/>
<rect x="656" y="638" width="1" height="108" fill="#c0c0c0"/>
<rect x="664" y="638" width="1" height="97" fill="#c0c0c0"/>
<rect x="672" y="638" width="1" height="87" fill="#c0c0c0"/>
<rect x="680" y="638" width="1" height="74" fill="#c0c0c0"/>
<rect x="688" y="638" width="1" height="65" fill="#c0c0c0"/>
<rect x="696" y="638" width="1" height="60" fill="#c0c0c0"/>
<rect x="704" y="638" width="1" height="52" fill="#c0c0c0"/>
<rect x="712" y="638" width="1" height="48" fill="#c0c0c0"/>
<rect x="720" y="638" width="1" height="48" fill="#c0c0c0"/>
<rect x="728" y="638" width="1" height="50" fill="#c0c0c0"/>
<rect x="736" y="638" width="1" height="50" fill="#c0c0c0"/>
<rect x="744" y="638" width="1" height="47" fill="#c0c0c0"/>
<rect x="752" y="638" width="1" height="43" fill="#c0c0c0"/>
<rect x="760" y="638" width="1" height="40" fill="#c0c0c0"/>
<rect x="768" y="638" width="1" height="39" fill="#c0c0c0"/>
<rect x="776" y="638" width="1" height="40" fill="#c0c0c0"/>
<rect x="784" y="638" width="1" height="40" fill="#c0c0c0"/>
<rect x="792" y="638" width="1" height="39" fill="#c0c0c0"/>
<rect x="800" y="638" width="1" height="38" fill="#c0c0c0"/>
<rect x="808" y="638" width="1" height="36" fill="#c0c0c0"/>
<rect x="816" y="638" width="1" height="35" fill="#c0c0c0"/>
<rect x="824" y="638" width="1" height="22" fill="#c0c0c0"/>
<rect x="832" y="638" width="1" height="12" fill="#c0c0c0"/>
<rect x="840" y="638" width="1" height="7" fill="#c0c0c0"/>
<rect x="848" y="638" width="1" height="7" fill="#c0c0c0"/>
<rect x="856" y="638" width="1" height="21" fill="#c0c0c0"/>
<rect x="864" y="638" width="1" height="39" fill="#c0c0c0"/>
<rect x="872" y="638" width="1" height="50" fill="#c0c0c0"/>
<rect x="880" y="638" width="1" height="57" fill="#c0c0c0"/>
<rect x="888" y="638" width="1" height="60" fill="#c0c0c0"/>
<rect x="896" y="638" width="1" height="70" fill="#c0c0c0"/>
<rect x="904" y="638" width="1" height="72" fill="#c0c0c0"/>
<rect x="912" y="638" width="1" height="74" fill="#c0c0c0"/>
<rect x="920" y="638" width="1" height="75" fill="#c0c0c0"/>
<rect x="928" y="638" width="1" height="75" fill="#c0c0c0"/>
<rect x="936" y="638" width="1" height="79" fill="#c0c0c0"/>
<rect x="944" y="638" width="1" height="80" fill="#c0c0c0"/>
<rect x="952" y="638" width="1" height="75" fill="#c0c0c0"/>
<rect x="960" y="638" width="1" height="70" fill="#c0c0c0"/>
<rect x="968" y="638" width="1" height="67" fill="#c0c0c0"/>
<rect x="976" y="638" width="1" height="63" fill="#c0c0c0"/>
<rect x="984" y="638" width="1" height="58" fill="#c0c0c0"/>
<rect x="992" y="638" width="1" height="57" fill="#c0c0c0"/>
<rect x="1000" y="638" width="1" height="53" fill="#c0c0c0"/>
<rect x="1008" y="638" width="1" height="52" fill="#c0c0c0"/>
<rect x="1016" y="638" width="1" height="51" fill="#c0c0c0"/>
<rect x="1024" y="638" width="1" height="50" fill="#c0c0c0"/>
<rect x="1032" y="638" width="1" height="46" fill="#c0c0c0"/>
<rect x="1040" y="638" width="1" height="42" fill="#c0c0c0"/>
<rect x="1048" y="638" width="1" height="36" fill="#c0c0c0"/>
<rect x="1056" y="638" width="1" height="36" fill="#c0c0c0"/>
<rect x="1064" y="638" width="1" height="42" fill="#c0c0c0"/>
<rect x="1072" y="638" width="1" height="47" fill="#c0c0c0"/>
<rect x="1080" y="638" width="1" height="52" fill="#c0c0c0"/>
<rect x="1088" y="638" width="1" height="57" fill="#c0c0c0"/>
<rect x="1096" y="638" width="1" height="62" fill="#c0c0c0"/>
<rect x="1104" y="638" width="1" height="64" fill="#c0c0c0"/>
<rect x="1112" y="638" width="1" height="66" fill="#c0c0c0"/>
<rect x="1120" y="638" width="1" height="65" fill="#c0c0c0"/>
<rect x="1128" y="638" width="1" height="63" fill="#c0c0c0"/>
<rect x="1136" y="638" width="1" height="60" fill="#c0c0c0"/>
<rect x="1144" y="638" width="1" height="60" fill="#c0c0c0"/>
<rect x="1152" y="638" width="1" height="54" fill="#c0c0c0"/>
<rect x="1160" y="638" width="1" height="49" fill="#c0c0c0"/>
<rect x="1168" y="638" width="1" height="43" fill="#c0c0c0"/>
<rect x="1176" y="638" width="1" height="39" fill="#c0c0c0"/>
<rect x="1184" y="638" width="1" height="38" fill="#c0c0c0"/>
<rect x="1192" y="638" width="1" height="32" fill="#c0c0c0"/>
<rect x="1200" y="638" width="1" height="27" fill="#c0c0c0"/>
<rect x="1208" y="638" width="1" height="18" fill="#c0c0c0"/>
<rect x="1216" y="638" width="1" height="10" fill="#c0c0c0"/>
<rect x="1224" y="638" width="1" height="1" fill="#c0c0c0"/>
<rect x="1232" y="626" width="1" height="13" fill="#c0c0c0"/>
<rect x="1240" y="608" width="1" height="31" fill="#c0c0c0"/>
<rect x="1248" y="597" width="1" height="42" fill="#c0c0c0"/>
<rect x="1256" y="587" width="1" height="52" fill="#c0c0c0"/>
<rect x="1264" y="578" width="1" height="61" fill="#c0c0c0"/>
<rect x="1272" y="575" width="1" height="64" fill="#c0c0c0"/>
<rect x="1280" y="580" width="1" height="59" fill="#c0c0c0"/>
<rect x="1288" y="583" width="1" height="56" fill="#c0c0c0"/>
<rect x="1296" y="588" width="1" height="51" fill="#c0c0c0"/>
<rect x="1304" y="598" width="1" height="41" fill="#c0c0c0"/>
<rect x="1312" y="606" width="1" height="33" fill="#c0c0c0"/>
<rect x="1320" y="608" width="1" height="31" fill="#c0c0c0"/>
<rect x="1328" y="611" width="1" height="28" fill="#c0c0c0"/>
<rect x="1336" y="608" width="1" height="31" fill="#c0c0c0"/>
<rect x="1344" y="598" width="1" height="41" fill="#c0c0c0"/>
<rect x="1352" y="594" width="1" height="45" fill="#c0c0c0"/>
<rect x="1360" y="593" width="1" height="46" fill="#c0c0c0"/>
<rect x="1368" y="597" width="1" height="42" fill="#c0c0c0"/>
<rect x="1376" y="597" width="1" height="42" fill="#c0c0c0"/>
<rect x="1384" y="596" width="1" height="43" fill="#c0c0c0"/>
<rect x="1392" y="594" width="1" height="45" fill="#c0c0c0"/>
<rect x="1400" y="592" width="1" height="47" fill="#c0c0c0"/>
<rect x="1408" y="590" width="1" height="49" fill="#c0c0c0"/>
<rect x="1416" y="587" width="1" height="52" fill="#c0c0c0"/>
<rect x="1424" y="583" width="1" height="56" fill="#c0c0c0"/>
<rect x="1432" y="580" width="1" height="59" fill="#c0c0c0"/>
<rect x="1440" y="577" width="1" height="62" fill="#c0c0c0"/>
<rect x="1448" y="575" width="1" height="64" fill="#c0c0c0"/>
<rect x="1456" y="573" width="1" height="66" fill="#c0c0c0"/>
<rect x="1464" y="573" width="1" height="66" fill="#c0c0c0"/>
<polyline points="0.0,662.6 30.0,663.4 60.0,661.9 90.0,661.4 100.0,659.6 112.0,654.6 125.0,648.9 137.0,641.4 150.0,635.1 160.0,630.1 170.0,626.6 185.0,625.3 197.0,627.1 210.0,630.1 220.0,632.1 232.0,635.1 245.0,638.8 257.0,642.1 270.0,646.4 282.0,650.1 295.0,652.6 310.0,654.1 325.0,654.4 340.0,652.6 352.0,648.9 365.0,646.4 377.0,643.1 390.0,640.1 400.0,638.3 415.0,639.6 430.0,645.1 445.0,655.6 460.0,671.4 475.0,687.7 490.0,706.4 505.0,720.2 520.0,730.7 535.0,738.2 550.0,745.7 565.0,752.2 585.0,760.7 600.0,765.3 620.0,766.5 640.0,766.5 652.8,764.0 670.0,756.0 685.0,744.0 700.0,729.0 713.0,716.4 725.4,705.2 740.4,695.2 755.4,688.2 770.5,683.9 790.5,681.9 805.5,678.9 822.5,676.4 837.5,670.1 852.6,663.1 865.0,662.1 885.0,667.1 900.0,677.1 915.0,690.7 935.0,705.2 952.7,711.7 975.0,711.7 1000.0,704.7 1025.0,695.2 1050.0,686.4 1065.0,682.7 1083.0,682.7 1103.0,685.7 1118.0,692.2 1133.0,696.9 1150.4,698.4 1170.5,695.2 1190.5,686.9 1202.5,680.9 1215.0,672.6 1230.0,661.4 1245.0,645.1 1260.0,627.6 1275.0,610.0 1287.6,597.5 1300.0,588.8 1310.0,587.0 1322.7,589.5 1335.0,594.5 1347.7,598.0 1360.0,599.5 1375.0,600.0 1390.0,598.0 1405.0,593.8 1420.0,590.5 1435.0,587.5 1450.0,584.5 1464.0,581.3" fill="none" stroke="#ff0000" stroke-width="1" stroke-dasharray="3 3"/>
</g>
<g><line x1="1362.7" y1="598.3" x2="1491.0" y2="573.4" stroke="#ff0000" stroke-width="3.8"/><polygon points="1500.8,571.5 1490.0,578.9 1491.5,573.3 1488.0,568.7" fill="#ff0000"/></g>
<g class="c" clip-path="url(#clipRsi)">
<line x1="-1" y1="812.5" x2="1651" y2="812.5" stroke="#c0c0c0" stroke-width="1" stroke-dasharray="3 3"/>
<line x1="-1" y1="854.5" x2="1651" y2="854.5" stroke="#c0c0c0" stroke-width="1" stroke-dasharray="3 3"/>
<line x1="-1" y1="903.5" x2="1651" y2="903.5" stroke="#c0c0c0" stroke-width="1" stroke-dasharray="3 3"/>
<polyline points="0.0,869.6 8.0,874.4 16.0,874.4 24.0,873.1 32.0,877.1 40.0,871.4 48.0,865.6 56.0,877.1 64.0,877.1 72.0,870.6 80.0,875.1 88.0,875.1 96.0,840.1 104.0,831.3 112.0,827.6 120.0,824.3 128.0,826.3 136.0,833.1 144.0,857.1 152.0,850.6 160.0,854.3 168.0,854.3 176.0,851.3 184.0,854.3 192.0,856.3 200.0,854.3 208.0,856.3 216.0,866.4 224.0,871.4 232.0,860.6 240.0,865.1 248.0,868.4 256.0,868.4 264.0,869.4 272.0,865.6 280.0,864.4 288.0,866.4 296.0,869.4 304.0,863.1 312.0,851.3 320.0,865.1 328.0,848.3 336.0,848.3 344.0,845.6 352.0,844.3 360.0,852.6 368.0,843.3 376.0,857.6 384.0,853.3 392.0,857.6 400.0,859.3 408.0,860.6 416.0,883.1 424.0,883.1 432.0,890.1 440.0,893.4 448.0,891.4 456.0,894.6 464.0,899.4 472.0,898.1 480.0,902.7 488.0,889.4 496.0,890.1 504.0,881.4 512.0,887.6 520.0,890.9 528.0,895.9 536.0,897.1 544.0,898.1 552.0,898.1 560.0,899.4 568.0,899.4 576.0,901.4 584.0,900.2 592.0,901.4 600.0,902.7 608.0,886.4 616.0,898.1 624.0,893.9 632.0,887.1 640.0,887.1 648.0,882.1 656.0,864.4 664.0,865.6 672.0,862.1 680.0,856.3 688.0,861.4 696.0,863.4 704.0,859.3 712.0,862.1 720.0,868.9 728.0,873.1 736.0,871.4 744.0,863.4 752.0,862.1 760.0,863.4 768.0,867.1 776.0,870.6 784.0,869.4 792.0,872.6 800.0,863.1 808.0,864.4 816.0,868.9 824.0,840.1 832.0,840.1 840.0,848.8 848.0,855.1 856.0,875.9 864.0,882.1 872.0,875.1 880.0,876.4 888.0,874.4 896.0,880.1 904.0,875.6 912.0,874.4 920.0,875.1 928.0,876.4 936.0,880.1 944.0,881.4 952.0,863.4 960.0,868.1 968.0,868.1 976.0,867.1 984.0,860.1 992.0,868.1 1000.0,864.4 1008.0,868.1 1016.0,866.4 1024.0,868.1 1032.0,862.6 1040.0,859.3 1048.0,857.1 1056.0,865.1 1064.0,875.9 1072.0,877.1 1080.0,878.4 1088.0,881.4 1096.0,882.1 1104.0,882.1 1112.0,882.1 1120.0,878.1 1128.0,874.4 1136.0,874.4 1144.0,878.9 1152.0,862.1 1160.0,862.1 1168.0,858.3 1176.0,862.6 1184.0,866.9 1192.0,856.3 1200.0,853.3 1208.0,842.1 1216.0,840.8 1224.0,839.3 1232.0,825.1 1240.0,818.0 1248.0,822.6 1256.0,821.3 1264.0,820.0 1272.0,825.6 1280.0,845.1 1288.0,840.8 1296.0,847.1 1304.0,857.1 1312.0,856.3 1320.0,849.3 1328.0,849.3 1336.0,840.8 1344.0,831.3 1352.0,833.1 1360.0,840.8 1368.0,843.8 1376.0,840.1 1384.0,841.3 1392.0,837.1 1400.0,842.6 1408.0,838.1 1416.0,831.8 1424.0,830.6 1432.0,827.1 1440.0,828.1 1448.0,827.1 1456.0,827.1 1464.0,826.3" fill="none" stroke="#1e90ff" stroke-width="1"/>
</g>
<g><line x1="1358.5" y1="841.3" x2="1467.1" y2="827.7" stroke="#ff0000" stroke-width="3.0"/><polygon points="1477.0,826.5 1465.7,832.9 1467.6,827.7 1464.5,823.0" fill="#ff0000"/></g>
<g class="c">
<rect x="0" y="24" width="1652" height="1" fill="#000"/>
<rect x="0" y="559" width="1652" height="1" fill="#000"/>
<rect x="0" y="561" width="1652" height="1" fill="#000"/>
<rect x="0" y="780" width="1652" height="1" fill="#000"/>
<rect x="0" y="782" width="1652" height="1" fill="#000"/>
<rect x="0" y="925" width="1652" height="1" fill="#000"/>
<rect x="1651" y="24" width="1" height="902" fill="#000"/>
<rect x="1697" y="19" width="1" height="918" fill="#f0f0f0"/>
<polygon points="1463,25 1472,25 1467.5,30" fill="#c0c0c0"/>
</g>
<g class="c">
<rect x="1652" y="28" width="2" height="1" fill="#000"/>
<rect x="1652" y="61" width="2" height="1" fill="#000"/>
<rect x="1652" y="94" width="2" height="1" fill="#000"/>
<rect x="1652" y="127" width="2" height="1" fill="#000"/>
<rect x="1652" y="160" width="2" height="1" fill="#000"/>
<rect x="1652" y="193" width="2" height="1" fill="#000"/>
<rect x="1652" y="226" width="2" height="1" fill="#000"/>
<rect x="1652" y="259" width="2" height="1" fill="#000"/>
<rect x="1652" y="292" width="2" height="1" fill="#000"/>
<rect x="1652" y="325" width="2" height="1" fill="#000"/>
<rect x="1652" y="358" width="2" height="1" fill="#000"/>
<rect x="1652" y="391" width="2" height="1" fill="#000"/>
<rect x="1652" y="424" width="2" height="1" fill="#000"/>
<rect x="1652" y="457" width="2" height="1" fill="#000"/>
<rect x="1652" y="490" width="2" height="1" fill="#000"/>
<rect x="1652" y="523" width="2" height="1" fill="#000"/>
<rect x="1652" y="556" width="2" height="1" fill="#000"/>
<text x="1657.5" y="32" font-size="10" fill="#000" textLength="32" lengthAdjust="spacingAndGlyphs">1.31905</text>
<text x="1657.5" y="65" font-size="10" fill="#000" textLength="32" lengthAdjust="spacingAndGlyphs">1.31245</text>
<text x="1657.5" y="98" font-size="10" fill="#000" textLength="32" lengthAdjust="spacingAndGlyphs">1.30585</text>
<text x="1657.5" y="131" font-size="10" fill="#000" textLength="32" lengthAdjust="spacingAndGlyphs">1.29925</text>
<text x="1657.5" y="164" font-size="10" fill="#000" textLength="32" lengthAdjust="spacingAndGlyphs">1.29265</text>
<text x="1657.5" y="197" font-size="10" fill="#000" textLength="32" lengthAdjust="spacingAndGlyphs">1.28605</text>
<text x="1657.5" y="230" font-size="10" fill="#000" textLength="32" lengthAdjust="spacingAndGlyphs">1.27945</text>
<text x="1657.5" y="263" font-size="10" fill="#000" textLength="32" lengthAdjust="spacingAndGlyphs">1.27285</text>
<text x="1657.5" y="296" font-size="10" fill="#000" textLength="32" lengthAdjust="spacingAndGlyphs">1.26625</text>
<text x="1657.5" y="329" font-size="10" fill="#000" textLength="32" lengthAdjust="spacingAndGlyphs">1.25965</text>
<text x="1657.5" y="362" font-size="10" fill="#000" textLength="32" lengthAdjust="spacingAndGlyphs">1.25305</text>
<text x="1657.5" y="395" font-size="10" fill="#000" textLength="32" lengthAdjust="spacingAndGlyphs">1.24645</text>
<text x="1657.5" y="428" font-size="10" fill="#000" textLength="32" lengthAdjust="spacingAndGlyphs">1.23985</text>
<text x="1657.5" y="461" font-size="10" fill="#000" textLength="32" lengthAdjust="spacingAndGlyphs">1.23325</text>
<text x="1657.5" y="494" font-size="10" fill="#000" textLength="32" lengthAdjust="spacingAndGlyphs">1.22665</text>
<text x="1657.5" y="527" font-size="10" fill="#000" textLength="32" lengthAdjust="spacingAndGlyphs">1.22005</text>
<text x="1657.5" y="560" font-size="10" fill="#000" textLength="32" lengthAdjust="spacingAndGlyphs">1.21345</text>
<rect x="1646" y="262" width="5" height="5" fill="#ff4500"/>
<rect x="1647" y="263" width="3" height="3" fill="#fff"/>
<rect x="1653" y="258" width="41" height="11" fill="#ff4500"/>
<text x="1657.5" y="267" font-size="10" fill="#fff" textLength="32" lengthAdjust="spacingAndGlyphs">1.27189</text>
<rect x="1646" y="295" width="5" height="5" fill="#ff0000"/>
<rect x="1647" y="296" width="3" height="3" fill="#fff"/>
<rect x="1653" y="291" width="41" height="11" fill="#ff0000"/>
<text x="1657.5" y="300" font-size="10" fill="#fff" textLength="32" lengthAdjust="spacingAndGlyphs">1.26530</text>
<rect x="1646" y="346" width="5" height="5" fill="#32cd32"/>
<rect x="1647" y="347" width="3" height="3" fill="#fff"/>
<rect x="1653" y="342" width="41" height="11" fill="#32cd32"/>
<text x="1657.5" y="351" font-size="10" fill="#fff" textLength="32" lengthAdjust="spacingAndGlyphs">1.25512</text>
<rect x="1646" y="382" width="5" height="5" fill="#0000ff"/>
<rect x="1647" y="383" width="3" height="3" fill="#fff"/>
<rect x="1653" y="378" width="41" height="11" fill="#0000ff"/>
<text x="1657.5" y="387" font-size="10" fill="#fff" textLength="32" lengthAdjust="spacingAndGlyphs">1.24793</text>
<rect x="1646" y="414" width="5" height="5" fill="#0000ff"/>
<rect x="1647" y="415" width="3" height="3" fill="#fff"/>
<rect x="1653" y="410" width="41" height="11" fill="#0000ff"/>
<text x="1657.5" y="419" font-size="10" fill="#fff" textLength="32" lengthAdjust="spacingAndGlyphs">1.24155</text>
<rect x="1653" y="327" width="41" height="11" fill="#000"/>
<text x="1657.5" y="336" font-size="10" fill="#fff" textLength="32" lengthAdjust="spacingAndGlyphs">1.25812</text>
<rect x="1652" y="563" width="1" height="1" fill="#000"/>
<text x="1655" y="572" font-size="10" fill="#000" textLength="33" lengthAdjust="spacingAndGlyphs">0.00616</text>
<rect x="1652" y="638" width="2" height="1" fill="#000"/>
<text x="1655" y="642" font-size="10" fill="#000" textLength="18" lengthAdjust="spacingAndGlyphs">0.00</text>
<text x="1655" y="777" font-size="10" fill="#000" textLength="41" lengthAdjust="spacingAndGlyphs">-0.011438</text>
<text x="1655" y="793" font-size="10" fill="#000" textLength="15" lengthAdjust="spacingAndGlyphs">100</text>
<text x="1655" y="816" font-size="10" fill="#000" textLength="10" lengthAdjust="spacingAndGlyphs">80</text>
<text x="1655" y="858" font-size="10" fill="#000" textLength="10" lengthAdjust="spacingAndGlyphs">50</text>
<text x="1655" y="907" font-size="10" fill="#000" textLength="10" lengthAdjust="spacingAndGlyphs">15</text>
<text x="1655" y="922" font-size="10" fill="#000" textLength="5" lengthAdjust="spacingAndGlyphs">0</text>
<rect x="1652" y="779" width="1" height="1" fill="#000"/>
<rect x="1652" y="784" width="1" height="1" fill="#000"/>
<rect x="1652" y="924" width="1" height="1" fill="#000"/>
</g>
<g class="c">
<text transform="translate(-8.6,938) scale(0.945,1)" font-size="10" fill="#000">11 Apr 2022</text>
<rect x="56" y="926" width="1" height="3" fill="#000"/>
<text transform="translate(55.4,938) scale(0.945,1)" font-size="10" fill="#000">12 Apr 16:00</text>
<rect x="120" y="926" width="1" height="3" fill="#000"/>
<text transform="translate(119.4,938) scale(0.945,1)" font-size="10" fill="#000">14 Apr 00:00</text>
<rect x="184" y="926" width="1" height="3" fill="#000"/>
<text transform="translate(183.4,938) scale(0.945,1)" font-size="10" fill="#000">15 Apr 08:00</text>
<rect x="248" y="926" width="1" height="3" fill="#000"/>
<text transform="translate(247.4,938) scale(0.945,1)" font-size="10" fill="#000">18 Apr 16:00</text>
<rect x="312" y="926" width="1" height="3" fill="#000"/>
<text transform="translate(311.4,938) scale(0.945,1)" font-size="10" fill="#000">20 Apr 00:00</text>
<rect x="376" y="926" width="1" height="3" fill="#000"/>
<text transform="translate(375.4,938) scale(0.945,1)" font-size="10" fill="#000">21 Apr 08:00</text>
<rect x="440" y="926" width="1" height="3" fill="#000"/>
<text transform="translate(439.4,938) scale(0.945,1)" font-size="10" fill="#000">22 Apr 16:00</text>
<rect x="504" y="926" width="1" height="3" fill="#000"/>
<text transform="translate(503.4,938) scale(0.945,1)" font-size="10" fill="#000">26 Apr 00:00</text>
<rect x="568" y="926" width="1" height="3" fill="#000"/>
<text transform="translate(567.4,938) scale(0.945,1)" font-size="10" fill="#000">27 Apr 08:00</text>
<rect x="632" y="926" width="1" height="3" fill="#000"/>
<text transform="translate(631.4,938) scale(0.945,1)" font-size="10" fill="#000">28 Apr 16:00</text>
<rect x="696" y="926" width="1" height="3" fill="#000"/>
<text transform="translate(695.4,938) scale(0.945,1)" font-size="10" fill="#000">2 May 00:00</text>
<rect x="760" y="926" width="1" height="3" fill="#000"/>
<text transform="translate(759.4,938) scale(0.945,1)" font-size="10" fill="#000">3 May 08:00</text>
<rect x="824" y="926" width="1" height="3" fill="#000"/>
<text transform="translate(823.4,938) scale(0.945,1)" font-size="10" fill="#000">4 May 16:00</text>
<rect x="888" y="926" width="1" height="3" fill="#000"/>
<text transform="translate(887.4,938) scale(0.945,1)" font-size="10" fill="#000">6 May 00:00</text>
<rect x="952" y="926" width="1" height="3" fill="#000"/>
<text transform="translate(951.4,938) scale(0.945,1)" font-size="10" fill="#000">9 May 08:00</text>
<rect x="1016" y="926" width="1" height="3" fill="#000"/>
<text transform="translate(1015.4,938) scale(0.945,1)" font-size="10" fill="#000">10 May 16:00</text>
<rect x="1080" y="926" width="1" height="3" fill="#000"/>
<text transform="translate(1079.4,938) scale(0.945,1)" font-size="10" fill="#000">12 May 00:00</text>
<rect x="1144" y="926" width="1" height="3" fill="#000"/>
<text transform="translate(1143.4,938) scale(0.945,1)" font-size="10" fill="#000">13 May 08:00</text>
<rect x="1208" y="926" width="1" height="3" fill="#000"/>
<text transform="translate(1207.4,938) scale(0.945,1)" font-size="10" fill="#000">16 May 16:00</text>
<rect x="1272" y="926" width="1" height="3" fill="#000"/>
<text transform="translate(1271.4,938) scale(0.945,1)" font-size="10" fill="#000">18 May 00:00</text>
<rect x="1336" y="926" width="1" height="3" fill="#000"/>
<text transform="translate(1335.4,938) scale(0.945,1)" font-size="10" fill="#000">19 May 08:00</text>
<rect x="1400" y="926" width="1" height="3" fill="#000"/>
<text transform="translate(1399.4,938) scale(0.945,1)" font-size="10" fill="#000">20 May 16:00</text>
<rect x="1464" y="926" width="1" height="3" fill="#000"/>
<text transform="translate(1463.4,938) scale(0.945,1)" font-size="10" fill="#000">23 May 22:00</text>
</g>
<text x="7" y="36" font-size="10" fill="#000" textLength="204" lengthAdjust="spacingAndGlyphs">GBPUSD-,H4&#160;&#160;1.25809 1.25826 1.25805 1.25812</text>
<polygon points="0,32 1,32 3,35 0,35" fill="#000"/>
<text x="-2" y="574" font-size="10" fill="#000" textLength="146" lengthAdjust="spacingAndGlyphs">MACD(12,26,9) 0.005360 0.004664</text>
<text x="-4" y="795" font-size="10" fill="#000" textLength="68" lengthAdjust="spacingAndGlyphs">RSI(14) 69.4621</text>
<g class="c">
<rect x="0" y="44" width="216" height="59" fill="#fff"/>
<rect x="0" y="44" width="47" height="25" fill="#0000a8"/>
<rect x="0" y="45" width="46" height="23" fill="url(#gSell)"/>
<rect x="0" y="68" width="104" height="33" fill="#0000a8"/>
<rect x="0" y="69" width="103" height="31" fill="url(#gPrice)"/>
<rect x="0" y="67" width="43" height="1" fill="#1a1ab0"/>
<rect x="0" y="68" width="43" height="1" fill="#6a6aff"/>
<rect x="162" y="44" width="52" height="25" fill="#0000a8"/>
<rect x="163" y="45" width="50" height="23" fill="url(#gSell)"/>
<rect x="106" y="68" width="108" height="33" fill="#0000a8"/>
<rect x="107" y="69" width="106" height="31" fill="url(#gPrice)"/>
<rect x="166" y="67" width="44" height="1" fill="#1a1ab0"/>
<rect x="166" y="68" width="44" height="1" fill="#6a6aff"/>
<rect x="49" y="44" width="111" height="22" fill="#a8a8a8"/>
<rect x="50" y="45" width="109" height="20" fill="#fff"/>
<rect x="51" y="46" width="19" height="18" fill="url(#gBtn)"/>
<rect x="70" y="45" width="1" height="20" fill="#b0b0b0"/>
<rect x="139" y="46" width="19" height="18" fill="url(#gBtn)"/>
<rect x="138" y="45" width="1" height="20" fill="#b0b0b0"/>
</g>
<polygon points="57,53 62.5,53 59.7,56.5" fill="#5060c8"/>
<polygon points="145.5,56 151.5,56 148.5,52.5" fill="#5060c8"/>
<text x="134.5" y="59" font-size="12" fill="#000" text-anchor="end" textLength="23" lengthAdjust="spacingAndGlyphs">1.00</text>
<text x="6.2" y="60" font-size="12" fill="#fff" textLength="27" lengthAdjust="spacingAndGlyphs">SELL</text>
<text x="174.6" y="60" font-size="12" fill="#fff" textLength="26.2" lengthAdjust="spacingAndGlyphs">BUY</text>
<text x="14.9" y="95.7" font-size="12" fill="#fff" font-weight="bold" textLength="24.8" lengthAdjust="spacingAndGlyphs">1.25</text>
<text x="42.3" y="95.8" font-size="34.6" fill="#fff" textLength="36.8" lengthAdjust="spacingAndGlyphs" stroke="url(#gPriceU)" stroke-width="0.4">81</text>
<text x="81.5" y="79.7" font-size="12" fill="#fff" font-weight="bold" textLength="8.3" lengthAdjust="spacingAndGlyphs">2</text>
<text x="125" y="95.7" font-size="12" fill="#fff" font-weight="bold" textLength="24.8" lengthAdjust="spacingAndGlyphs">1.25</text>
<text x="152.7" y="95.8" font-size="34.6" fill="#fff" textLength="37.6" lengthAdjust="spacingAndGlyphs" stroke="url(#gPriceU)" stroke-width="0.4">86</text>
<text x="193.2" y="79.9" font-size="12" fill="#fff" font-weight="bold" textLength="8" lengthAdjust="spacingAndGlyphs">1</text>
<g class="c">
<rect x="0" y="0" width="1698" height="19" fill="#f0f0f0"/>
<rect x="0" y="19" width="1698" height="1" fill="#dcdcdc"/>
<rect x="0" y="20" width="1698" height="1" fill="#a0a0a0"/>
<rect x="0" y="21" width="1698" height="1" fill="#6e6e6e"/>
<rect x="0" y="22" width="1698" height="2" fill="#fff"/>
</g>
<defs><pattern id="chk" width="2" height="2" patternUnits="userSpaceOnUse"><rect width="2" height="2" fill="#fff"/><rect width="1" height="1" fill="#e4e4e4"/><rect x="1" y="1" width="1" height="1" fill="#e4e4e4"/></pattern>
<linearGradient id="gGold" x1="0" y1="0" x2="1" y2="1"><stop offset="0" stop-color="#ffe04a"/><stop offset="0.6" stop-color="#e0a010"/><stop offset="1" stop-color="#a86808"/></linearGradient>
<linearGradient id="gGreen" x1="0" y1="0" x2="0" y2="1"><stop offset="0" stop-color="#60f060"/><stop offset="1" stop-color="#10a010"/></linearGradient>
<linearGradient id="gRed" x1="0" y1="0" x2="0" y2="1"><stop offset="0" stop-color="#e85030"/><stop offset="1" stop-color="#d81800"/></linearGradient>
</defs>
<path d="M0 7.5a3 3 0 0 1 0 4z" fill="#5a9ae0"/><line x1="0" y1="13" x2="4" y2="17" stroke="#c89a20" stroke-width="2.5"/>
<rect class="c" x="12" y="0" width="1" height="18" fill="#a0a0a0"/>
<path d="M22.5 1.5a1 1 0 0 1 1 -1h7l3 3v9a1 1 0 0 1 -1 1h-9a1 1 0 0 1 -1 -1z" fill="#fff" stroke="#787878" stroke-width="1"/><rect x="24.5" y="2.5" width="2.5" height="1.3" fill="#909090"/><rect x="24.5" y="5.5" width="6" height="1" fill="#a0a0a0"/><rect x="24.5" y="7.8" width="5" height="1" fill="#a0a0a0"/><rect x="24.5" y="10" width="3" height="1" fill="#a0a0a0"/>
<path d="M30.2 6.2h3.6v4.0h4.0v3.6h-4.0v4.0h-3.6v-4.0h-4.0v-3.6h4.0z" fill="url(#gGreen)" stroke="#0a8a0a" stroke-width="0.8"/>
<text x="41.5" y="10.7" font-size="12.4" fill="#000" textLength="64.5" lengthAdjust="spacingAndGlyphs">New Order</text>
<polygon points="118.2,10 124,1.3 133.6,9.7 126,15.6" fill="url(#gGold)" stroke="#a86a08" stroke-width="0.8"/>
<path d="M118.5 10.5L126 16L133.5 10.5" fill="none" stroke="#8a5206" stroke-width="1"/>
<rect x="148.2" y="0" width="11" height="9" fill="#2a8af0"/><rect x="151" y="2" width="6.5" height="5" fill="#9ad0ff"/><rect x="152" y="3.5" width="4.5" height="1" fill="#fff"/>
<path d="M149 15.5a2.8 2.8 0 0 1 0.3 -5.5a3.4 3.4 0 0 1 6.2 -1a3 3 0 0 1 4 2a2.4 2.4 0 0 1 -0.5 4.5z" fill="#e8eef8" stroke="#4a68a8" stroke-width="1"/>
<g fill="none" stroke-width="1.1"><path d="M182 0.5a7.3 7.3 0 0 0 0 14.6" stroke="#4a70e0"/><path d="M182 3a4.8 4.8 0 0 0 0 9.6" stroke="#4a70e0"/><path d="M182 0.5a7.3 7.3 0 0 1 1 14.6" stroke="#58a858"/><path d="M182 3a4.8 4.8 0 0 1 1 9.6" stroke="#58a858"/></g>
<circle cx="181.9" cy="7.6" r="1.7" fill="#2a50d0"/><rect x="182" y="8" width="1.6" height="7.6" fill="#18a018"/>
<path d="M201.5 7.2L208.5 15.6L216.3 7.2z" fill="#f8d030" stroke="#c09010" stroke-width="0.6"/>
<ellipse cx="209" cy="5" rx="8" ry="2.6" fill="#48a0e0"/><ellipse cx="209" cy="2.6" rx="3.6" ry="2.6" fill="#5ab0ec"/>
<circle cx="213.3" cy="11.7" r="3.9" fill="#e01808"/><rect x="212" y="10.4" width="2.7" height="2.7" fill="#fff"/>
<text x="222" y="10.7" font-size="12.4" fill="#000" textLength="71" lengthAdjust="spacingAndGlyphs">AutoTrading</text>
<rect class="c" x="302" y="0" width="1" height="19" fill="#a0a0a0"/>
<rect class="c" x="305" y="1" width="3" height="1" fill="#a6a6a6"/><rect class="c" x="305" y="3" width="3" height="1" fill="#a6a6a6"/><rect class="c" x="305" y="5" width="3" height="1" fill="#a6a6a6"/><rect class="c" x="305" y="7" width="3" height="1" fill="#a6a6a6"/><rect class="c" x="305" y="9" width="3" height="1" fill="#a6a6a6"/><rect class="c" x="305" y="11" width="3" height="1" fill="#a6a6a6"/><rect class="c" x="305" y="13" width="3" height="1" fill="#a6a6a6"/><rect class="c" x="305" y="15" width="3" height="1" fill="#a6a6a6"/><rect class="c" x="305" y="17" width="3" height="1" fill="#a6a6a6"/>
<g stroke="#555" stroke-width="1.4" fill="#555"><line x1="319.4" y1="3" x2="319.4" y2="16"/><line x1="316.9" y1="13.6" x2="329.9" y2="13.6"/><polygon stroke="none" points="319.4,1.5 317.2,4.5 321.59999999999997,4.5"/><polygon stroke="none" points="331.4,13.6 328.4,11.4 328.4,15.8"/></g>
<g stroke="#0a8a0a" stroke-width="1.3" fill="none"><path d="M325.5 3v8.5M325.5 4.5h2.6M323 10.4h2.5"/></g>
<rect class="c" x="339" y="0" width="1" height="18" fill="#a0a0a0"/>
<rect class="c" x="340" y="0" width="24" height="18" fill="url(#chk)"/>
<g stroke="#555" stroke-width="1.4" fill="#555"><line x1="347.5" y1="3" x2="347.5" y2="16"/><line x1="345.0" y1="13.6" x2="358.0" y2="13.6"/><polygon stroke="none" points="347.5,1.5 345.3,4.5 349.7,4.5"/><polygon stroke="none" points="359.5,13.6 356.5,11.4 356.5,15.8"/></g>
<rect x="352.8" y="0" width="1.2" height="12" fill="#0a8a0a"/><rect x="351.2" y="2.4" width="4.4" height="7.2" fill="url(#gGreen)" stroke="#0a8a0a" stroke-width="0.9"/>
<g stroke="#555" stroke-width="1.4" fill="#555"><line x1="375.4" y1="3" x2="375.4" y2="16"/><line x1="372.9" y1="13.6" x2="385.9" y2="13.6"/><polygon stroke="none" points="375.4,1.5 373.2,4.5 377.59999999999997,4.5"/><polygon stroke="none" points="387.4,13.6 384.4,11.4 384.4,15.8"/></g>
<path d="M374.4 10.7C377 8.5 378.5 5.2 380.3 5.2C382 5.2 383.5 8 385.8 9" fill="none" stroke="#2a9a2a" stroke-width="1.2"/>
<rect class="c" x="396" y="0" width="1" height="18" fill="#a0a0a0"/>
<line x1="414.8" y1="10.4" x2="419.8" y2="14.8" stroke="#d8b020" stroke-width="3"/><line x1="414.8" y1="10.4" x2="419.8" y2="14.8" stroke="#a87808" stroke-width="3" stroke-dasharray="0.6 1.2"/><circle cx="411" cy="6" r="5.4" fill="#d4eeff" stroke="#3a7ac8" stroke-width="1.1"/><rect x="408" y="5.1" width="6" height="1.8" fill="#3a88c0"/><rect x="410.1" y="3" width="1.8" height="6" fill="#3a88c0"/>
<line x1="442.8" y1="10.4" x2="447.8" y2="14.8" stroke="#d8b020" stroke-width="3"/><line x1="442.8" y1="10.4" x2="447.8" y2="14.8" stroke="#a87808" stroke-width="3" stroke-dasharray="0.6 1.2"/><circle cx="439" cy="6" r="5.4" fill="#d4eeff" stroke="#3a7ac8" stroke-width="1.1"/><rect x="436" y="5.1" width="6" height="1.8" fill="#3a88c0"/>
<rect x="461.2" y="0" width="7.8" height="7.8" fill="#3aa020"/><rect x="461.2" y="0" width="7.8" height="2.5" fill="#2a8a10"/><rect x="462.7" y="3.6" width="4.8" height="3" fill="#fff"/><rect x="463.5" y="4.6" width="3.2" height="0.9" fill="#3aa020"/>
<rect x="469.2" y="0" width="7.8" height="7.8" fill="#2a58d8"/><rect x="469.2" y="0" width="7.8" height="2.5" fill="#1840b8"/><rect x="470.7" y="3.6" width="4.8" height="3" fill="#fff"/><rect x="471.5" y="4.6" width="3.2" height="0.9" fill="#2a58d8"/>
<rect x="461.2" y="8" width="7.8" height="7.8" fill="#2a58d8"/><rect x="461.2" y="8" width="7.8" height="2.5" fill="#1840b8"/><rect x="462.7" y="11.6" width="4.8" height="3" fill="#fff"/><rect x="463.5" y="12.6" width="3.2" height="0.9" fill="#2a58d8"/>
<rect x="469.2" y="8" width="7.8" height="7.8" fill="#3aa020"/><rect x="469.2" y="8" width="7.8" height="2.5" fill="#2a8a10"/><rect x="470.7" y="11.6" width="4.8" height="3" fill="#fff"/><rect x="471.5" y="12.6" width="3.2" height="0.9" fill="#3aa020"/>
<rect class="c" x="486" y="0" width="1" height="18" fill="#a0a0a0"/>
<rect class="c" x="491" y="0" width="1" height="18" fill="#a0a0a0"/>
<rect class="c" x="492" y="0" width="24" height="18" fill="url(#chk)"/>
<g stroke="#555" stroke-width="1.4" fill="#555"><line x1="499.4" y1="3" x2="499.4" y2="16"/><line x1="496.9" y1="13.6" x2="509.9" y2="13.6"/><polygon stroke="none" points="499.4,1.5 497.2,4.5 501.59999999999997,4.5"/><polygon stroke="none" points="511.4,13.6 508.4,11.4 508.4,15.8"/></g>
<polygon points="504.3,4.2 508,7.5 504.3,10.8" fill="#60e060" stroke="#0a8a0a" stroke-width="1"/>
<rect class="c" x="519" y="0" width="1" height="18" fill="#a0a0a0"/>
<rect class="c" x="520" y="0" width="24" height="18" fill="url(#chk)"/>
<g stroke="#555" stroke-width="1.4" fill="#555"><line x1="527.5" y1="3" x2="527.5" y2="16"/><line x1="525.0" y1="13.6" x2="538.0" y2="13.6"/><polygon stroke="none" points="527.5,1.5 525.3,4.5 529.7,4.5"/><polygon stroke="none" points="539.5,13.6 536.5,11.4 536.5,15.8"/></g>
<rect x="532.8" y="2" width="1.3" height="10" fill="#1a6ab0"/><path d="M534.6 7.5l3 -2.4v1.6h1.6v1.6h-1.6v1.6z" fill="#e04808"/>
<rect class="c" x="548" y="0" width="1" height="18" fill="#a0a0a0"/>
<path d="M558.5 1.5a1 1 0 0 1 1 -1h7l3 3v9a1 1 0 0 1 -1 1h-9a1 1 0 0 1 -1 -1z" fill="#fff" stroke="#787878" stroke-width="1"/><rect x="560.5" y="2.5" width="2.5" height="1.3" fill="#909090"/><rect x="560.5" y="5.5" width="6" height="1" fill="#a0a0a0"/><rect x="560.5" y="7.8" width="5" height="1" fill="#a0a0a0"/><rect x="560.5" y="10" width="3" height="1" fill="#a0a0a0"/>
<path d="M566.2 6.2h3.6v4.0h4.0v3.6h-4.0v4.0h-3.6v-4.0h-4.0v-3.6h4.0z" fill="url(#gGreen)" stroke="#0a8a0a" stroke-width="0.8"/>
<polygon points="580,6.8 585.4,6.8 582.7,10.2" fill="#000"/>
<circle cx="603.9" cy="7.8" r="7" fill="#f4f8ff" stroke="#1a78d8" stroke-width="2.2"/><path d="M603.5 4v4.2h3" fill="none" stroke="#222" stroke-width="1.2"/>
<polygon points="619,6.8 624.4,6.8 621.7,10.2" fill="#000"/>
<rect x="635.5" y="1.3" width="15" height="13.4" fill="#fff" stroke="#3a78c8" stroke-width="1"/><rect x="636" y="1.8" width="14" height="2.6" fill="#4a8ad8"/><rect x="636" y="8.6" width="14" height="1" fill="#3a78c8"/>
<path d="M637.5 7.3l2 -0.2l1.5 -1.3l2 0.6l1.5 -1l2 0.8l2 -1.2" fill="none" stroke="#a02010" stroke-width="1.1"/><path d="M638 12.6l1.8 -0.8l2 0.8l2.2 -1.6l1.4 -1l2.6 2.2" fill="none" stroke="#10902a" stroke-width="1.1"/>
<polygon points="657.8,6.8 663.1999999999999,6.8 660.5,10.2" fill="#000"/>
<rect class="c" x="669" y="0" width="1" height="19" fill="#a0a0a0"/>
<rect class="c" x="673" y="1" width="3" height="1" fill="#a6a6a6"/><rect class="c" x="673" y="3" width="3" height="1" fill="#a6a6a6"/><rect class="c" x="673" y="5" width="3" height="1" fill="#a6a6a6"/><rect class="c" x="673" y="7" width="3" height="1" fill="#a6a6a6"/><rect class="c" x="673" y="9" width="3" height="1" fill="#a6a6a6"/><rect class="c" x="673" y="11" width="3" height="1" fill="#a6a6a6"/><rect class="c" x="673" y="13" width="3" height="1" fill="#a6a6a6"/><rect class="c" x="673" y="15" width="3" height="1" fill="#a6a6a6"/><rect class="c" x="673" y="17" width="3" height="1" fill="#a6a6a6"/>
<rect class="c" x="679" y="0" width="1" height="18" fill="#a0a0a0"/>
<rect class="c" x="680" y="0" width="24" height="18" fill="url(#chk)"/>
<polygon points="687.3,1.2 694.9,8.8 691.6,9.2 693.6,14 692,14.9 690,10.3 687.3,12.5" fill="#4a4a4a"/>
<g class="c" fill="#555"><rect x="712" y="8" width="6" height="1"/><rect x="721" y="8" width="6" height="1"/><rect x="719" y="1" width="1" height="6"/><rect x="719" y="10" width="1" height="6"/><rect x="719" y="8" width="1" height="1" fill="#999"/></g>
<rect class="c" x="736" y="0" width="1" height="18" fill="#a0a0a0"/>
<rect class="c" x="753" y="2" width="1" height="13" fill="#555"/>
<rect class="c" x="776" y="8" width="12" height="1" fill="#555"/>
<line x1="803.7" y1="14.6" x2="816" y2="3.3" stroke="#555" stroke-width="1.1"/>
<g stroke="#555" stroke-width="1" fill="none"><path d="M830 9.5L842 0.5M832 14L844 5"/><path d="M833 7l0.5 6M836 5l0.5 6M839 2.5l0.5 6M842 0.5l0.5 5.5"/></g>
<text x="840.7" y="16.8" font-size="6.3" fill="#444" font-weight="bold" textLength="4.3" lengthAdjust="spacingAndGlyphs">E</text>
<line class="c" x1="859" y1="1.5" x2="872" y2="1.5" stroke="#555" stroke-width="1" stroke-dasharray="1 1"/>
<line class="c" x1="859" y1="4.5" x2="872" y2="4.5" stroke="#555" stroke-width="1" stroke-dasharray="1 1"/>
<line class="c" x1="859" y1="8.5" x2="872" y2="8.5" stroke="#555" stroke-width="1" stroke-dasharray="1 1"/>
<line class="c" x1="859" y1="12.5" x2="868" y2="12.5" stroke="#555" stroke-width="1" stroke-dasharray="1 1"/>
<text x="869" y="16.8" font-size="6.3" fill="#444" font-weight="bold" textLength="3.8" lengthAdjust="spacingAndGlyphs">F</text>
<text x="890" y="12.7" font-size="12" fill="#555" font-weight="bold" textLength="7.8" lengthAdjust="spacingAndGlyphs">A</text>
<rect class="c" x="916.5" y="2.5" width="11" height="12" fill="none" stroke="#555" stroke-width="1" stroke-dasharray="1 1"/>
<text x="917.8" y="12.7" font-size="10.5" fill="#555" font-weight="bold" textLength="8" lengthAdjust="spacingAndGlyphs">T</text>
<polygon points="946.3,1.8 949.5,4.4 946.3,6.6 943.2,4.4" fill="#555"/><polygon points="953.8,9.4 957,11.8 953.8,14.6 950.6,11.8" fill="#555"/><path d="M945.5 9.2l1.6 2l4.2 -5" fill="none" stroke="#555" stroke-width="1.3"/>
<polygon points="963.8,6.8 969.1999999999999,6.8 966.5,10.2" fill="#000"/>
<rect class="c" x="975" y="0" width="1" height="19" fill="#a0a0a0"/>
<rect class="c" x="979" y="1" width="3" height="1" fill="#a6a6a6"/><rect class="c" x="979" y="3" width="3" height="1" fill="#a6a6a6"/><rect class="c" x="979" y="5" width="3" height="1" fill="#a6a6a6"/><rect class="c" x="979" y="7" width="3" height="1" fill="#a6a6a6"/><rect class="c" x="979" y="9" width="3" height="1" fill="#a6a6a6"/><rect class="c" x="979" y="11" width="3" height="1" fill="#a6a6a6"/><rect class="c" x="979" y="13" width="3" height="1" fill="#a6a6a6"/><rect class="c" x="979" y="15" width="3" height="1" fill="#a6a6a6"/><rect class="c" x="979" y="17" width="3" height="1" fill="#a6a6a6"/>
<rect class="c" x="1125" y="0" width="1" height="18" fill="#a0a0a0"/>
<rect class="c" x="1126" y="0" width="25" height="18" fill="url(#chk)"/>
<text x="990.6" y="11.6" font-size="10" fill="#484848" textLength="12.7" lengthAdjust="spacingAndGlyphs">M1</text>
<text x="1018.6" y="11.6" font-size="10" fill="#484848" textLength="12.7" lengthAdjust="spacingAndGlyphs">M5</text>
<text x="1044.5" y="11.6" font-size="10" fill="#484848" textLength="17.5" lengthAdjust="spacingAndGlyphs">M15</text>
<text x="1072.6" y="11.6" font-size="10" fill="#484848" textLength="17.4" lengthAdjust="spacingAndGlyphs">M30</text>
<text x="1103.6" y="11.6" font-size="10" fill="#484848" textLength="11.5" lengthAdjust="spacingAndGlyphs">H1</text>
<text x="1130.8" y="11.6" font-size="10" fill="#484848" textLength="12" lengthAdjust="spacingAndGlyphs">H4</text>
<text x="1159.6" y="11.6" font-size="10" fill="#484848" textLength="11.6" lengthAdjust="spacingAndGlyphs">D1</text>
<text x="1187.3" y="11.6" font-size="10" fill="#484848" textLength="13.6" lengthAdjust="spacingAndGlyphs">W1</text>
<text x="1214" y="11.6" font-size="10" fill="#484848" textLength="14" lengthAdjust="spacingAndGlyphs">MN</text>
<rect class="c" x="1236" y="0" width="1" height="19" fill="#a0a0a0"/>
<circle cx="1653.4" cy="5.4" r="3.7" fill="#f4f6ff" stroke="#2a5adf" stroke-width="1.4"/><line x1="1650.6" y1="8.4" x2="1646" y2="12.8" stroke="#2a5adf" stroke-width="2.4"/>
<path d="M1670.5 10a4.8 4 0 0 1 9.6 0a4.8 4 0 0 1 -4.8 4l-0.8 0l-1.3 2.2l-0.3 -2.6a4.8 4 0 0 1 -2.4 -3.6z" fill="#e4e6ec" stroke="#b4b4b4" stroke-width="0.9"/>
<circle cx="1684.5" cy="5.8" r="8" fill="url(#gRed)"/>
<text x="1684.5" y="10" font-size="13" font-weight="bold" fill="#fff" text-anchor="middle" font-family="Liberation Serif,serif">1</text>
</svg></body></html>
